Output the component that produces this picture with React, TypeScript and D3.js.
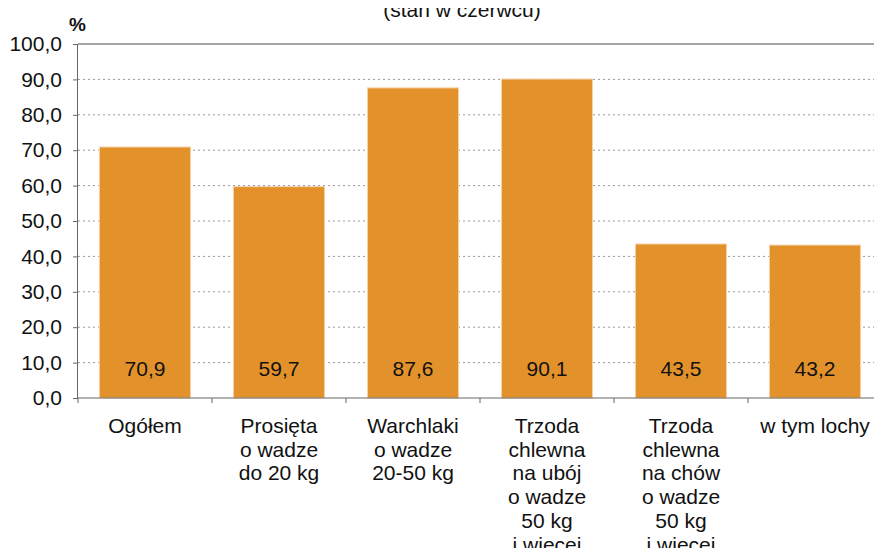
import { useRef, useEffect } from "react";
import * as d3 from "d3";

const categories = [
  ["Ogółem"],
  ["Prosięta", "o wadze", "do 20 kg"],
  ["Warchlaki", "o wadze", "20-50 kg"],
  ["Trzoda", "chlewna", "na ubój", "o wadze", "50 kg", "i więcej"],
  ["Trzoda", "chlewna", "na chów", "o wadze", "50 kg", "i więcej"],
  ["w tym lochy"],
];
const values = [70.9, 59.7, 87.6, 90.1, 43.5, 43.2];
const yTicks = [0, 10, 20, 30, 40, 50, 60, 70, 80, 90, 100];

const W = 882;
const H = 556;
const FONT = "'Liberation Sans', Arial, sans-serif";

function BarChart() {
  const svgRef = useRef<SVGSVGElement>(null);

  useEffect(() => {
    const svg = d3.select(svgRef.current);
    svg.selectAll("*").remove();

    const left = 78;
    const right = 882;
    const top = 44;
    const bottom = 398;
    const fmt = (v: number) => d3.format(".1f")(v).replace(".", ",");

    const x = d3
      .scaleBand<number>()
      .domain(values.map((_, i) => i))
      .range([left, right])
      .paddingInner(0.32)
      .paddingOuter(0.16);

    const y = d3.scaleLinear().domain([0, 100]).range([bottom, top]);

    // title (top of it is cut off in the original)
    svg
      .append("text")
      .attr("x", 462)
      .attr("y", 17)
      .attr("text-anchor", "middle")
      .attr("font-family", FONT)
      .attr("font-size", 21)
      .attr("fill", "#111")
      .text("(stan w czerwcu)");

    svg
      .append("text")
      .attr("x", 69)
      .attr("y", 31)
      .attr("font-family", FONT)
      .attr("font-size", 19)
      .attr("font-weight", "bold")
      .attr("fill", "#111")
      .text("%");

    // gridlines
    svg
      .append("g")
      .selectAll("line")
      .data(yTicks.filter((t) => t > 0))
      .join("line")
      .attr("x1", left)
      .attr("x2", right)
      .attr("y1", (d) => y(d))
      .attr("y2", (d) => y(d))
      .attr("stroke", (d) => (d === 100 ? "#888" : "#999"))
      .attr("stroke-width", (d) => (d === 100 ? 1.5 : 1))
      .attr("stroke-dasharray", (d) => (d === 100 ? null : "2,3"));

    // bars
    svg
      .append("g")
      .selectAll("rect")
      .data(values)
      .join("rect")
      .attr("x", (_, i) => x(i)!)
      .attr("y", (d) => y(d))
      .attr("width", x.bandwidth())
      .attr("height", (d) => bottom - y(d))
      .attr("fill", "#E3922B")
      .attr("stroke", "#F3D3A8")
      .attr("stroke-width", 1);

    // value labels
    svg
      .append("g")
      .selectAll("text")
      .data(values)
      .join("text")
      .attr("x", (_, i) => x(i)! + x.bandwidth() / 2)
      .attr("y", 376)
      .attr("text-anchor", "middle")
      .attr("font-family", FONT)
      .attr("font-size", 21)
      .attr("fill", "#111")
      .text((d) => fmt(d));

    // y axis
    const yAxis = d3
      .axisLeft(y)
      .tickValues(yTicks)
      .tickSize(5)
      .tickPadding(11)
      .tickFormat((d) => fmt(d as number));
    const gy = svg.append("g").attr("transform", `translate(${left},0)`).call(yAxis);
    gy.select(".domain").attr("stroke", "#666").attr("d", `M-0.5,${top}V${bottom}`);
    gy.selectAll(".tick line").attr("stroke", "#666");
    gy.selectAll(".tick text")
      .attr("font-family", FONT)
      .attr("font-size", 21)
      .attr("fill", "#111");

    // x axis line and ticks
    svg
      .append("line")
      .attr("x1", left - 0.5)
      .attr("x2", right)
      .attr("y1", bottom)
      .attr("y2", bottom)
      .attr("stroke", "#666");
    const step = x.step();
    svg
      .append("g")
      .selectAll("line")
      .data(d3.range(values.length))
      .join("line")
      .attr("x1", (i) => x(i)! - (step - x.bandwidth()) / 2)
      .attr("x2", (i) => x(i)! - (step - x.bandwidth()) / 2)
      .attr("y1", bottom)
      .attr("y2", bottom + 5)
      .attr("stroke", "#666");

    // category labels
    const cat = svg
      .append("g")
      .selectAll("text")
      .data(categories)
      .join("text")
      .attr("x", (_, i) => x(i)! + x.bandwidth() / 2)
      .attr("y", 433)
      .attr("text-anchor", "middle")
      .attr("font-family", FONT)
      .attr("font-size", 21)
      .attr("fill", "#111");
    cat
      .selectAll("tspan")
      .data((d) => d)
      .join("tspan")
      .attr("x", function () {
        return (this.parentNode as SVGTextElement).getAttribute("x");
      })
      .attr("dy", (_, j) => (j === 0 ? 0 : 23.7))
      .text((d) => d);
  }, []);

  return <svg ref={svgRef} width={W} height={H} style={{ display: "block" }} />;
}

export default function App() {
  return (
    <div style={{ margin: -8 }}>
      <BarChart />
    </div>
  );
}
